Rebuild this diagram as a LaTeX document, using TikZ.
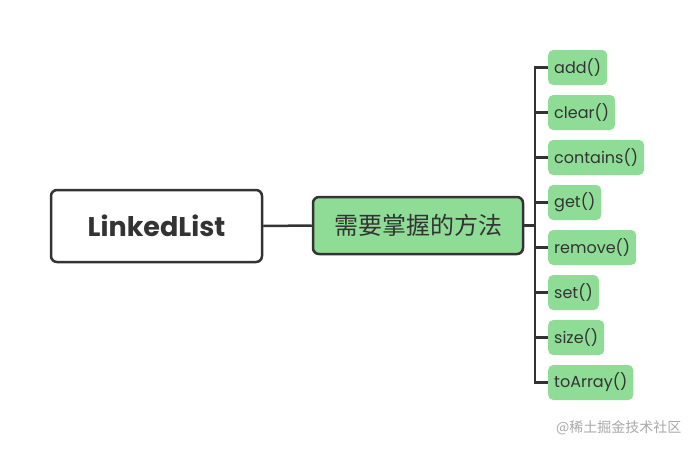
\documentclass[tikz,border=0pt]{standalone}
\usepackage{fontspec}
\setmainfont{Poppins}
\newfontfamily\cjk{Noto Sans CJK SC}
\definecolor{linec}{HTML}{333333}
\definecolor{leafg}{HTML}{8FDC97}
\definecolor{wm}{HTML}{A8A8A8}
\begin{document}
\begin{tikzpicture}[x=1pt,y=-1pt,
  rootbox/.style={draw=linec,line width=2.5pt,rounded corners=6pt,fill=white,minimum width=211pt,minimum height=72pt,inner sep=0pt,text=linec,font=\fontsize{27}{30}\selectfont\bfseries},
  midbox/.style={draw=linec,line width=2.5pt,rounded corners=6pt,fill=leafg,minimum width=210pt,minimum height=57pt,inner sep=0pt,text=linec,font=\cjk\fontsize{24}{28}\selectfont},
  leafbox/.style={fill=leafg,rounded corners=5pt,minimum height=35pt,inner xsep=6pt,inner ysep=0pt,anchor=west,text=linec,font=\fontsize{16}{19}\selectfont},
  conn/.style={draw=linec,line width=2.5pt}]
\useasboundingbox (0,0) rectangle (697,451);
\node[rootbox] (root) at (156.5,226) {LinkedList};
\node[midbox] (mid) at (418,225.5) {需要掌握的方法};
\coordinate (j) at (535,225.5);
\node[leafbox] (l1) at (548,67.5) {add()};
\node[leafbox] (l2) at (548,112.5) {clear()};
\node[leafbox] (l3) at (548,157.5) {contains()};
\node[leafbox] (l4) at (548,202.5) {get()};
\node[leafbox] (l5) at (548,247.5) {remove()};
\node[leafbox] (l6) at (548,292.5) {set()};
\node[leafbox] (l7) at (548,337.5) {size()};
\node[leafbox] (l8) at (548,382.5) {toArray()};
\draw[conn] (root.east) -- (mid.west);
\draw[conn] (mid.east) -- (j);
\foreach \i in {1,...,8} {\draw[conn] (j) |- (l\i.west);}
\node[text=wm,font=\cjk\fontsize{14}{16}\selectfont,anchor=east] (wmk) at (685,428) {@稀土掘金技术社区};
\end{tikzpicture}
\end{document}
